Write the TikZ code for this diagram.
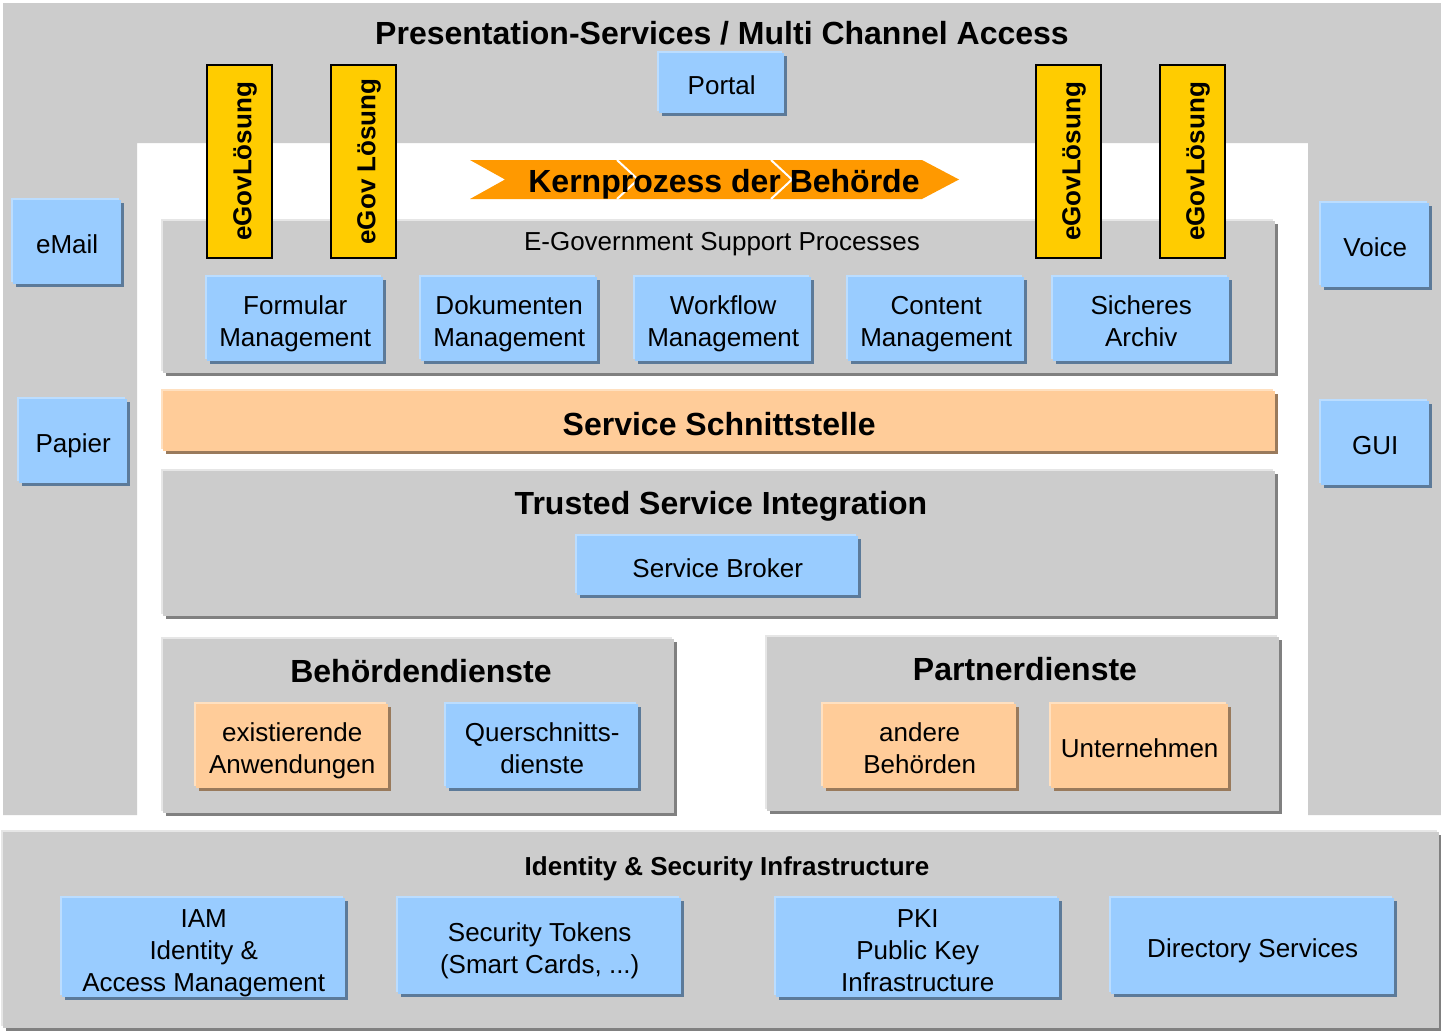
\documentclass[tikz,border=0pt]{standalone}
\usepackage{fontspec}
\setmainfont{Liberation Sans}
\usetikzlibrary{shadows}
\definecolor{grayF}{HTML}{CCCCCC}
\definecolor{grayH}{HTML}{E6E6E6}
\definecolor{grayS}{HTML}{808080}
\definecolor{blueF}{HTML}{99CCFF}
\definecolor{blueH}{HTML}{BBDDFF}
\definecolor{blueS}{HTML}{5C7A99}
\definecolor{oraF}{HTML}{FFCC99}
\definecolor{oraH}{HTML}{FFE0C0}
\definecolor{oraS}{HTML}{997A5C}
\definecolor{yelF}{HTML}{FFCC00}
\definecolor{arrF}{HTML}{FF9900}
\tikzset{
  f26/.style={font=\fontsize{26}{32}\selectfont},
  f26b/.style={font=\fontsize{26}{32}\selectfont\bfseries},
  f32b/.style={font=\fontsize{32}{38}\selectfont\bfseries},
  sz/.style 2 args={minimum width=#1, minimum height=#2, anchor=north west},
  struts/.style={execute at begin node={\rule{0pt}{\dimexpr1.12em+#1\baselineskip-\baselineskip\relax}},
    execute at end node={\rule[-0.215em]{0pt}{0.215em}}},
  struts/.default=1,
  twolines/.style={struts=2},
  threelines/.style={struts=3},
  boxbase/.style={inner sep=0pt, align=center, f26, struts},
  bluebox/.style={boxbase, fill=blueF,
    general shadow={fill=blueH, shadow xshift=-2pt, shadow yshift=2pt},
    general shadow={fill=blueS, shadow xshift=3pt, shadow yshift=-3pt}},
  orabox/.style={boxbase, fill=oraF,
    general shadow={fill=oraH, shadow xshift=-2pt, shadow yshift=2pt},
    general shadow={fill=oraS, shadow xshift=3pt, shadow yshift=-3pt}},
  graybox/.style={boxbase, fill=grayF,
    general shadow={fill=grayH, shadow xshift=-2pt, shadow yshift=2pt},
    general shadow={fill=grayS, shadow xshift=3pt, shadow yshift=-3pt}},
  egov/.style={inner sep=0pt, f26b, struts, fill=yelF, draw=black, line width=2pt,
    minimum width=193, minimum height=65, rotate=90},
  ttl/.style={inner sep=0pt, anchor=base},
}
\begin{document}
\begin{tikzpicture}[x=1pt,y=-1pt]
\useasboundingbox (0,0) rectangle (1441,1031);
\fill[white] (0,0) rectangle (1441,1031);
% outer presentation frame
\fill[grayF] (3,3) -- (1441,3) -- (1441,815) -- (1308,815) -- (1308,143)
  -- (137,143) -- (137,815) -- (3,815) -- cycle;
\node[ttl, f32b] (title) at (722,44) {Presentation-Services / Multi Channel Access};

% channels
\node[bluebox, sz={125}{60}] (portal) at (659,53) {Portal};
\node[bluebox, sz={108}{84}] (email) at (13,200) {eMail};
\node[bluebox, sz={108}{84}] (papier) at (19,399) {Papier};
\node[bluebox, sz={108}{84}] (voice) at (1321,203) {Voice};
\node[bluebox, sz={108}{84}] (gui) at (1321,401) {GUI};

% support processes
\node[graybox, sz={1112}{152}] (support) at (163,221) {};
\node[ttl, f26] (supttl) at (722,250) {E-Government Support Processes};
\node[bluebox, twolines, sz={176}{84}] (formular) at (207,277) {Formular\\Management};
\node[bluebox, twolines, sz={176}{84}] (dokument) at (421,277) {Dokumenten\\Management};
\node[bluebox, twolines, sz={176}{84}] (workflow) at (635,277) {Workflow\\Management};
\node[bluebox, twolines, sz={176}{84}] (content) at (848,277) {Content\\Management};
\node[bluebox, twolines, sz={176}{84}] (archiv) at (1053,277) {Sicheres\\Archiv};

% eGov solutions
\node[egov] (eg1) at (239.5,161.5) {eGovLösung};
\node[egov] (eg2) at (363.5,161.5) {eGov Lösung};
\node[egov] (eg3) at (1068.5,161.5) {eGovLösung};
\node[egov] (eg4) at (1192.5,161.5) {eGovLösung};

% core process arrow
\fill[arrF] (470,160) -- (922,160) -- (959,179.5) -- (922,199) -- (470,199)
  -- (505,179.5) -- cycle;
\draw[white, line width=2pt] (617,160) -- (638,179.5) -- (617,199);
\draw[white, line width=2pt] (771,160) -- (792,179.5) -- (771,199);
\node[ttl, f32b] (kern) at (724,192) {Kernprozess der Behörde};

% service interface
\node[orabox, sz={1112}{60}, f32b] (schnitt) at (163,391) {Service Schnittstelle};

% trusted service integration
\node[graybox, sz={1112}{145}] (trusted) at (163,471) {};
\node[ttl, f32b] (trttl) at (721,514) {Trusted Service Integration};
\node[bluebox, sz={281}{59}] (broker) at (577,536) {Service Broker};

% Behoerdendienste
\node[graybox, sz={511}{174}] (behoerd) at (163,639) {};
\node[ttl, f32b] (behttl) at (421,682) {Behördendienste};
\node[orabox, twolines, sz={192}{84}] (exist) at (196,704) {existierende\\Anwendungen};
\node[bluebox, twolines, sz={192}{84}] (quer) at (446,704) {Querschnitts-\\dienste};

% Partnerdienste
\node[graybox, sz={512}{174}] (partner) at (767,637) {};
\node[ttl, f32b] (parttl) at (1025,680) {Partnerdienste};
\node[orabox, twolines, sz={193}{84}] (andere) at (823,704) {andere\\Behörden};
\node[orabox, sz={177}{84}] (untern) at (1051,704) {Unternehmen};

% identity & security
\node[graybox, sz={1436}{196}] (ident) at (3,832) {};
\node[ttl, f26b] (idttl) at (727,875) {Identity \& Security Infrastructure};
\node[bluebox, threelines, sz={283}{96}] (iam) at (62,898) {IAM\\Identity \&\\Access Management};
\node[bluebox, twolines, sz={283}{96}] (tokens) at (398,898) {Security Tokens\\(Smart Cards, ...)};
\node[bluebox, threelines, sz={283}{96}] (pki) at (776,898) {PKI\\Public Key\\Infrastructure};
\node[bluebox, sz={283}{96}] (dir) at (1111,898) {Directory Services};
\end{tikzpicture}
\end{document}
